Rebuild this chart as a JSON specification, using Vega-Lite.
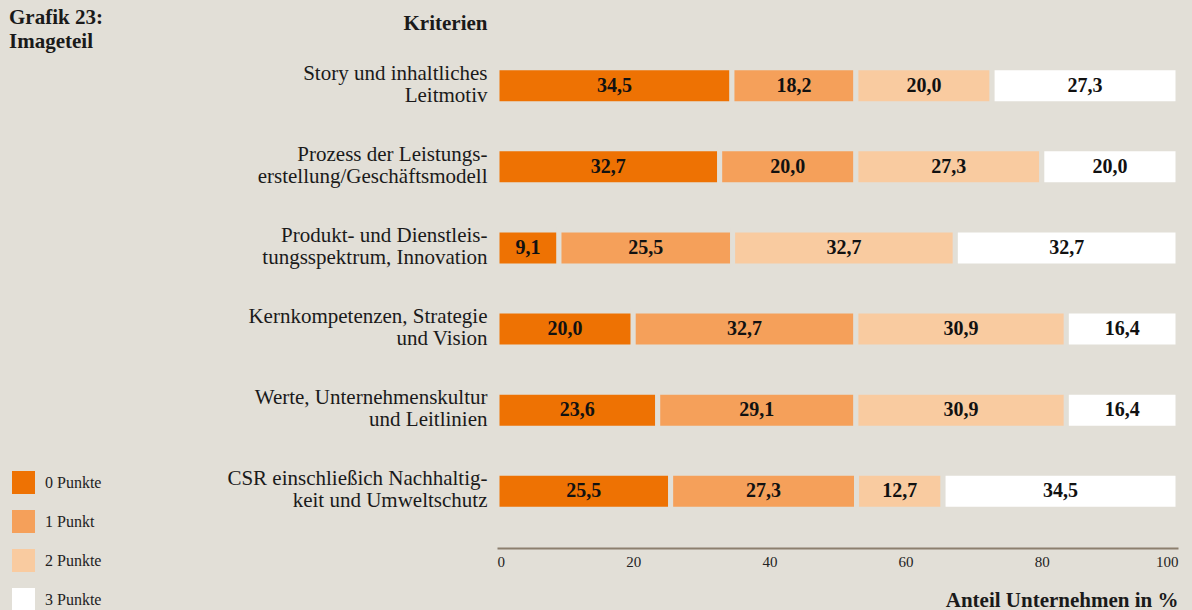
{
  "$schema": "https://vega.github.io/schema/vega-lite/v6.json",
  "width": 681,
  "height": 519,
  "autosize": {"type": "none"},
  "padding": {"left": 497, "top": 29, "right": 14, "bottom": 62},
  "background": "#e2dfd7",
  "config": {
    "locale": {"number": {"decimal": ",", "thousands": ".", "grouping": [3], "currency": ["", " €"]}},
    "view": {"stroke": null},
    "font": "Liberation Serif"
  },
  "title": {
    "text": ["Grafik 23:", "Imageteil"],
    "anchor": "start",
    "frame": "group",
    "fontSize": 21,
    "fontWeight": "bold",
    "lineHeight": 24,
    "color": "#1a1a1a",
    "dx": -488,
    "dy": 44,
    "baseline": "top"
  },
  "data": {
    "values": [
      {"kriterium": "Story und inhaltliches|Leitmotiv", "punkte": "0 Punkte", "order": 0, "anteil": 34.5},
      {"kriterium": "Story und inhaltliches|Leitmotiv", "punkte": "1 Punkt", "order": 1, "anteil": 18.2},
      {"kriterium": "Story und inhaltliches|Leitmotiv", "punkte": "2 Punkte", "order": 2, "anteil": 20.0},
      {"kriterium": "Story und inhaltliches|Leitmotiv", "punkte": "3 Punkte", "order": 3, "anteil": 27.3},
      {"kriterium": "Prozess der Leistungs-|erstellung/Geschäftsmodell", "punkte": "0 Punkte", "order": 0, "anteil": 32.7},
      {"kriterium": "Prozess der Leistungs-|erstellung/Geschäftsmodell", "punkte": "1 Punkt", "order": 1, "anteil": 20.0},
      {"kriterium": "Prozess der Leistungs-|erstellung/Geschäftsmodell", "punkte": "2 Punkte", "order": 2, "anteil": 27.3},
      {"kriterium": "Prozess der Leistungs-|erstellung/Geschäftsmodell", "punkte": "3 Punkte", "order": 3, "anteil": 20.0},
      {"kriterium": "Produkt- und Dienstleis-|tungsspektrum, Innovation", "punkte": "0 Punkte", "order": 0, "anteil": 9.1},
      {"kriterium": "Produkt- und Dienstleis-|tungsspektrum, Innovation", "punkte": "1 Punkt", "order": 1, "anteil": 25.5},
      {"kriterium": "Produkt- und Dienstleis-|tungsspektrum, Innovation", "punkte": "2 Punkte", "order": 2, "anteil": 32.7},
      {"kriterium": "Produkt- und Dienstleis-|tungsspektrum, Innovation", "punkte": "3 Punkte", "order": 3, "anteil": 32.7},
      {"kriterium": "Kernkompetenzen, Strategie|und Vision", "punkte": "0 Punkte", "order": 0, "anteil": 20.0},
      {"kriterium": "Kernkompetenzen, Strategie|und Vision", "punkte": "1 Punkt", "order": 1, "anteil": 32.7},
      {"kriterium": "Kernkompetenzen, Strategie|und Vision", "punkte": "2 Punkte", "order": 2, "anteil": 30.9},
      {"kriterium": "Kernkompetenzen, Strategie|und Vision", "punkte": "3 Punkte", "order": 3, "anteil": 16.4},
      {"kriterium": "Werte, Unternehmenskultur|und Leitlinien", "punkte": "0 Punkte", "order": 0, "anteil": 23.6},
      {"kriterium": "Werte, Unternehmenskultur|und Leitlinien", "punkte": "1 Punkt", "order": 1, "anteil": 29.1},
      {"kriterium": "Werte, Unternehmenskultur|und Leitlinien", "punkte": "2 Punkte", "order": 2, "anteil": 30.9},
      {"kriterium": "Werte, Unternehmenskultur|und Leitlinien", "punkte": "3 Punkte", "order": 3, "anteil": 16.4},
      {"kriterium": "CSR einschließich Nachhaltig-|keit und Umweltschutz", "punkte": "0 Punkte", "order": 0, "anteil": 25.5},
      {"kriterium": "CSR einschließich Nachhaltig-|keit und Umweltschutz", "punkte": "1 Punkt", "order": 1, "anteil": 27.3},
      {"kriterium": "CSR einschließich Nachhaltig-|keit und Umweltschutz", "punkte": "2 Punkte", "order": 2, "anteil": 12.7},
      {"kriterium": "CSR einschließich Nachhaltig-|keit und Umweltschutz", "punkte": "3 Punkte", "order": 3, "anteil": 34.5}
    ]
  },
  "transform": [
    {"stack": "anteil", "groupby": ["kriterium"], "sort": [{"field": "order", "order": "ascending"}], "as": ["x0", "x1"]},
    {"calculate": "(datum.x0 + datum.x1) / 2", "as": "xm"}
  ],
  "encoding": {
    "y": {
      "field": "kriterium",
      "type": "nominal",
      "sort": [
        "Story und inhaltliches|Leitmotiv",
        "Prozess der Leistungs-|erstellung/Geschäftsmodell",
        "Produkt- und Dienstleis-|tungsspektrum, Innovation",
        "Kernkompetenzen, Strategie|und Vision",
        "Werte, Unternehmenskultur|und Leitlinien",
        "CSR einschließich Nachhaltig-|keit und Umweltschutz"
      ],
      "scale": {"paddingInner": 0.6, "paddingOuter": 0.5},
      "axis": {
        "title": "Kriterien",
        "titleAngle": 0,
        "titleX": -10,
        "titleY": 0,
        "titleAlign": "right",
        "titleBaseline": "alphabetic",
        "titleFontSize": 21,
        "titleFontWeight": "bold",
        "titleColor": "#1a1a1a",
        "labelExpr": "split(datum.label, '|')",
        "labelFontSize": 21,
        "labelLineHeight": 22,
        "labelBaseline": "alphabetic",
        "labelOffset": -6,
        "labelPadding": 10,
        "labelLimit": 0,
        "labelColor": "#1a1a1a",
        "ticks": false,
        "domain": false,
        "grid": false
      }
    }
  },
  "layer": [
    {
      "mark": {"type": "bar", "size": 36, "stroke": "#e2dfd7", "strokeWidth": 5},
      "encoding": {
        "x": {
          "field": "x0",
          "type": "quantitative",
          "scale": {"domain": [0, 100]},
          "axis": {
            "values": [0, 20, 40, 60, 80, 100],
            "title": "Anteil Unternehmen in %",
            "titleFontSize": 21,
            "titleFontWeight": "bold",
            "titleColor": "#1a1a1a",
            "titleAnchor": "end",
            "titleAlign": "right",
            "titleX": 681,
            "titleY": 58,
            "titleBaseline": "alphabetic",
            "labelFlush": true,
            "labelFontSize": 15,
            "labelColor": "#222222",
            "labelPadding": 6,
            "ticks": false,
            "grid": false,
            "domainColor": "#8c7f6e",
            "domainWidth": 2
          }
        },
        "x2": {"field": "x1"},
        "color": {
          "field": "punkte",
          "type": "nominal",
          "scale": {
            "domain": ["0 Punkte", "1 Punkt", "2 Punkte", "3 Punkte"],
            "range": ["#ee7203", "#f5a05a", "#f9cba0", "#ffffff"]
          },
          "legend": {
            "title": null,
            "orient": "none",
            "legendX": -485,
            "legendY": 442,
            "direction": "vertical",
            "symbolType": "square",
            "symbolSize": 529,
            "symbolStrokeWidth": 0,
            "symbolOpacity": 1,
            "labelFontSize": 16,
            "labelColor": "#222222",
            "labelOffset": 10,
            "rowPadding": 16
          }
        }
      }
    },
    {
      "mark": {"type": "text", "fontWeight": "bold", "fontSize": 20, "color": "#111111"},
      "encoding": {
        "x": {"field": "xm", "type": "quantitative"},
        "text": {"field": "anteil", "type": "quantitative", "format": ".1f"}
      }
    }
  ]
}
